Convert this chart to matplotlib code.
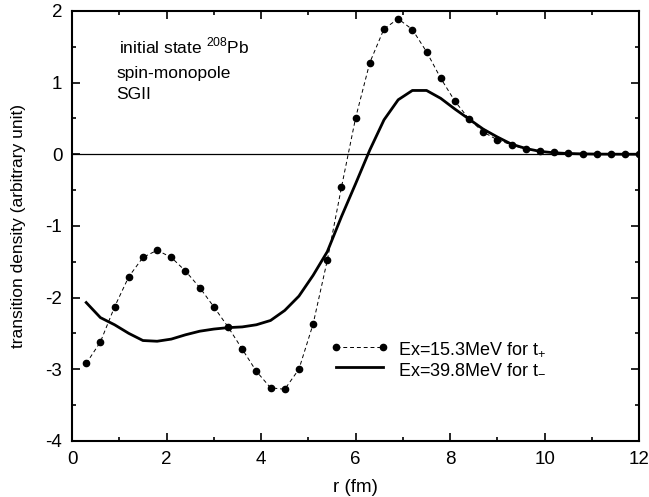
import matplotlib
matplotlib.use("Agg")

import numpy as np
import matplotlib.pyplot as plt
from matplotlib.ticker import MultipleLocator

plt.rcParams["font.family"] = ["Liberation Sans", "DejaVu Sans"]
plt.rcParams["mathtext.fontset"] = "custom"
plt.rcParams["mathtext.rm"] = "Liberation Sans"
plt.rcParams["axes.unicode_minus"] = False

# radial grid (fm)
r = np.round(np.arange(1, 41) * 0.3, 1)

# Ex=15.3 MeV, t+ (dots)
rho_plus = [-2.92, -2.62, -2.13, -1.71, -1.44, -1.34, -1.44, -1.63, -1.86, -2.13,
            -2.41, -2.72, -3.03, -3.26, -3.28, -3.00, -2.37, -1.48, -0.46, 0.51,
            1.28, 1.75, 1.89, 1.74, 1.43, 1.06, 0.74, 0.49, 0.31, 0.20,
            0.13, 0.07, 0.04, 0.03, 0.015, 0.008, 0.004, 0.002, 0.001, 0.0]

# Ex=39.8 MeV, t- (solid)
rho_minus = [-2.07, -2.28, -2.38, -2.50, -2.60, -2.61, -2.58, -2.52, -2.47, -2.44,
             -2.42, -2.41, -2.38, -2.32, -2.18, -1.98, -1.69, -1.36, -0.87, -0.41,
             0.06, 0.48, 0.76, 0.89, 0.89, 0.78, 0.63, 0.49, 0.35, 0.24,
             0.14, 0.08, 0.04, 0.02, 0.01, 0.005, 0.002, 0.001, 0.0, 0.0]

fig = plt.figure(figsize=(6.49, 4.97), dpi=100)
ax = fig.add_axes([0.111, 0.113, 0.874, 0.865])

ax.axhline(0, color="black", lw=0.9)
ax.plot(r, rho_plus, color="black", lw=0.7, dashes=(4, 3), marker="o",
        markersize=4.5, label="Ex=15.3MeV for t$_{{+}}$")
ax.plot(r, rho_minus, color="black", lw=2.0, label="Ex=39.8MeV for t$_{{-}}$")

ax.set_xlim(0, 12)
ax.set_ylim(-4, 2)
ax.xaxis.set_major_locator(MultipleLocator(2))
ax.xaxis.set_minor_locator(MultipleLocator(1))
ax.yaxis.set_major_locator(MultipleLocator(1))
ax.yaxis.set_minor_locator(MultipleLocator(0.5))
ax.tick_params(which="both", direction="in", top=True, right=True,
               labelsize=13.5, width=1.2)
ax.tick_params(which="major", length=6, pad=7)
ax.tick_params(which="minor", length=3)
for s in ax.spines.values():
    s.set_linewidth(1.5)

ax.set_xlabel("r (fm)", fontsize=13.5, labelpad=8)
ax.set_ylabel("transition density (arbitrary unit)", fontsize=12.5, labelpad=14)

ax.text(1.0, 1.51, "initial state $^{208}$Pb", fontsize=12.5, ha="left", va="center")
ax.text(0.93, 1.13, "spin-monopole", fontsize=12.5, ha="left", va="center")
ax.text(0.93, 0.83, "SGII", fontsize=12.5, ha="left", va="center")

ax.legend(loc="lower left", bbox_to_anchor=(0.428, 0.11), frameon=False,
          fontsize=13, numpoints=2, handlelength=3.2, handletextpad=0.5,
          labelspacing=0.15)

fig.savefig("out.png", dpi=100)
